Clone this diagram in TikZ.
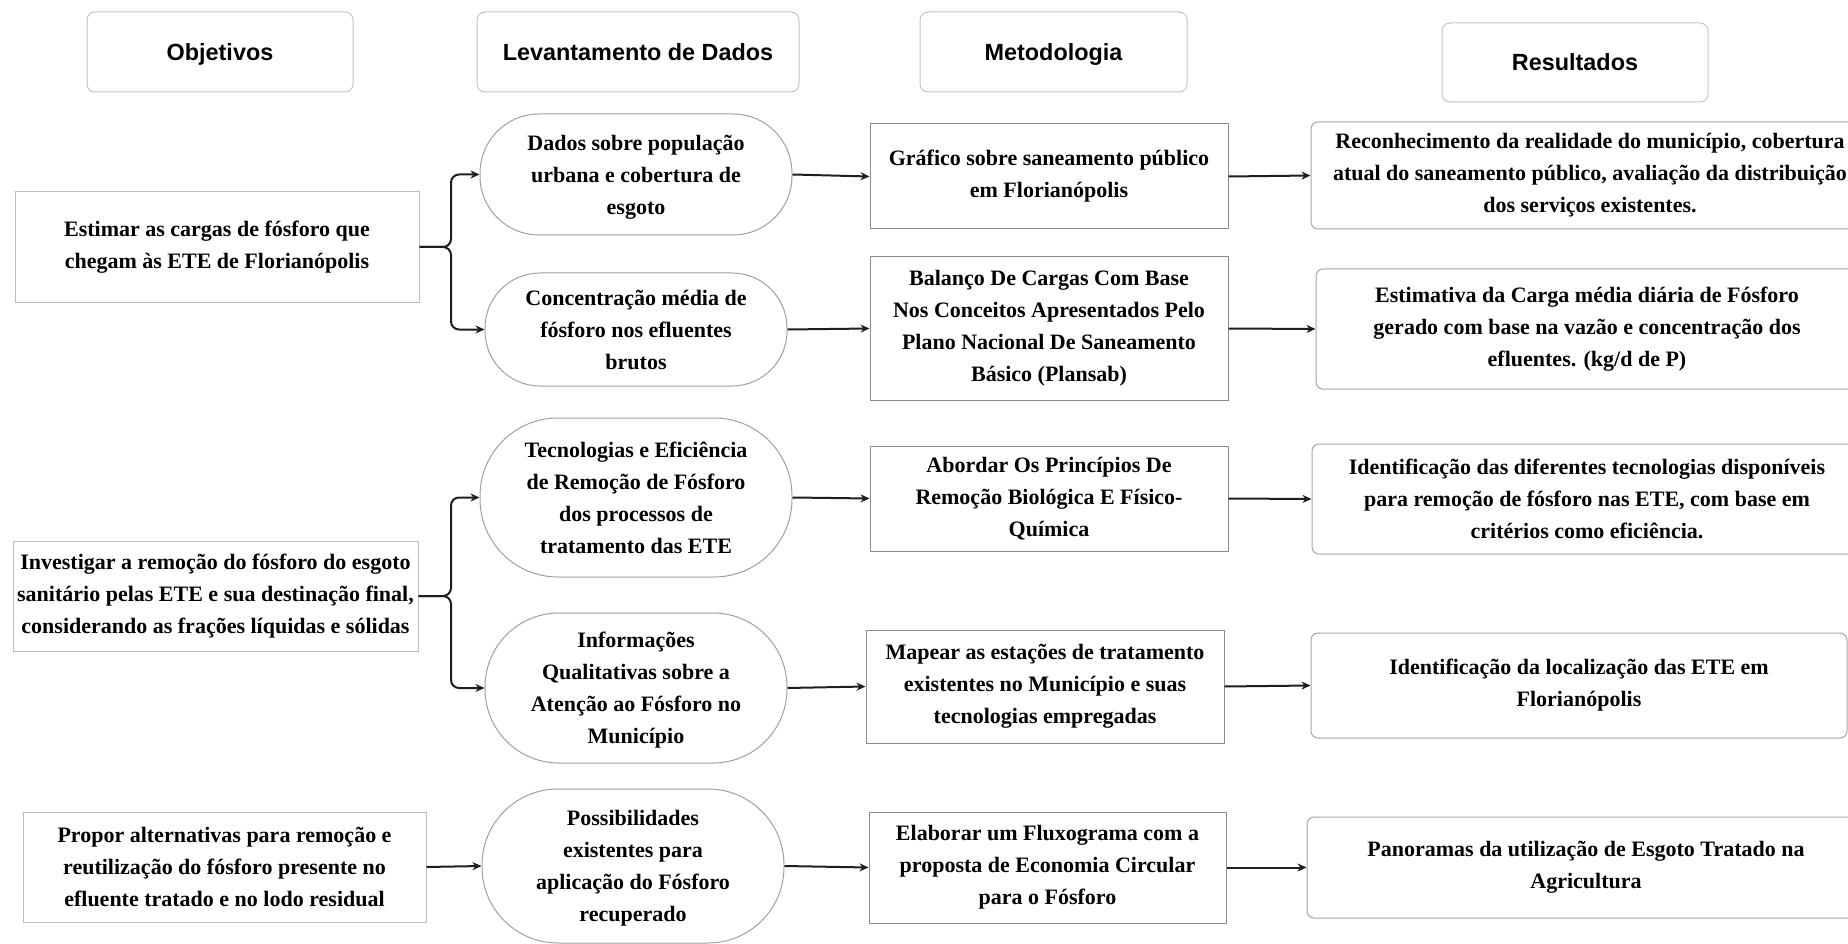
\documentclass[tikz,border=0pt]{standalone}
\usepackage{fontspec}
\setmainfont{Liberation Serif}
\newfontfamily\hfont{Liberation Sans}
\usetikzlibrary{arrows.meta}
\definecolor{hdrgray}{HTML}{C4C4C4}
\definecolor{objgray}{HTML}{BDBDBD}
\definecolor{ovalgray}{HTML}{A0A0A0}
\definecolor{metgray}{HTML}{8C8C8C}
\definecolor{resgray}{HTML}{A6A6A6}
\definecolor{arrblack}{HTML}{1E1E1E}
\newcommand\bodyfnt{\bfseries\fontsize{22}{32}\selectfont}
\tikzset{
  hdrbox/.style={draw=hdrgray, line width=1pt, rounded corners=8pt, inner sep=0pt,
    text height=16.8pt, text depth=0pt,
    font=\hfont\bfseries\fontsize{23.4}{28}\selectfont},
  objbox/.style={draw=objgray, line width=1pt, inner sep=0pt, align=center, font=\bodyfnt},
  ovalbox/.style={draw=ovalgray, line width=1pt, inner sep=0pt, align=center, font=\bodyfnt,
    text depth=-4.5pt},
  metbox/.style={draw=metgray, line width=1pt, inner sep=0pt, align=center, font=\bodyfnt},
  resbox/.style={draw=resgray, line width=1pt, rounded corners=7pt, inner sep=0pt, align=center, font=\bodyfnt},
  arr/.style={draw=arrblack, line width=2pt, -{Stealth[length=9pt,width=8pt]}},
}
\begin{document}
\begin{tikzpicture}[x=1pt,y=-1pt]
\useasboundingbox (0,0) rectangle (1848,944);
\clip (0,0) rectangle (1848,944);
\fill[white] (0,0) rectangle (1848,944);

% headers
\node[hdrbox, minimum width=266pt, minimum height=80pt] (hObj) at (220,52) {Objetivos};
\node[hdrbox, minimum width=322pt, minimum height=80pt] (hLev) at (638,52) {Levantamento de Dados};
\node[hdrbox, minimum width=267pt, minimum height=80pt] (hMet) at (1053.5,52) {Metodologia};
\node[hdrbox, minimum width=266pt, minimum height=79pt] (hRes) at (1575,62.5) {Resultados};

% objectives
\node[objbox, minimum width=404pt, minimum height=110pt] (o1) at (217,247)
  {Estimar as cargas de fósforo que\\chegam às ETE de Florianópolis};
\node[objbox, minimum width=405pt, minimum height=110pt] (o2) at (215.5,596)
  {Investigar a remoção do fósforo do esgoto\\sanitário pelas ETE e sua destinação final,\\considerando as frações líquidas e sólidas};
\node[objbox, minimum width=403pt, minimum height=110pt] (o3) at (224.5,867)
  {Propor alternativas para remoção e\\reutilização do fósforo presente no\\efluente tratado e no lodo residual};

% data (ovals)
\node[ovalbox, rounded corners=59pt, minimum width=312pt, minimum height=121pt] (e1) at (636,174.5)
  {Dados sobre população\\urbana e cobertura de\\esgoto};
\node[ovalbox, rounded corners=55pt, minimum width=302pt, minimum height=113pt] (e2) at (636,329.5)
  {Concentração média de\\fósforo nos efluentes\\brutos};
\node[ovalbox, rounded corners=78pt, minimum width=312pt, minimum height=159pt] (e3) at (636,497.5)
  {Tecnologias e Eficiência\\de Remoção de Fósforo\\dos processos de\\tratamento das ETE};
\node[ovalbox, rounded corners=74pt, minimum width=302pt, minimum height=150pt] (e4) at (636,688)
  {Informações\\Qualitativas sobre a\\Atenção ao Fósforo no\\Município};
\node[ovalbox, rounded corners=76pt, minimum width=302pt, minimum height=154pt] (e5) at (633,866)
  {Possibilidades\\existentes para\\aplicação do Fósforo\\recuperado};

% methodology
\node[metbox, minimum width=358pt, minimum height=105pt] (m1) at (1049,176.5)
  {Gráfico sobre saneamento público\\em Florianópolis};
\node[metbox, minimum width=358pt, minimum height=143pt] (m2) at (1049,328.5)
  {Balanço De Cargas Com Base\\Nos Conceitos Apresentados Pelo\\Plano Nacional De Saneamento\\Básico (Plansab)};
\node[metbox, minimum width=358pt, minimum height=105pt] (m3) at (1049,498.5)
  {Abordar Os Princípios De\\Remoção Biológica E Físico-\\Química};
\node[metbox, minimum width=358pt, minimum height=113pt] (m4) at (1045,686.5)
  {Mapear as estações de tratamento\\existentes no Município e suas\\tecnologias empregadas};
\node[metbox, minimum width=357pt, minimum height=111pt] (m5) at (1047.5,867.5)
  {Elaborar um Fluxograma com a\\proposta de Economia Circular\\para o Fósforo};

% results
\node[resbox, minimum width=558pt, minimum height=107pt] (r1) at (1590,175.5)
  {Reconhecimento da realidade do município, cobertura\\atual do saneamento público, avaliação da distribuição\\dos serviços existentes.};
\node[resbox, minimum width=542pt, minimum height=120pt] (r2) at (1587,329)
  {Estimativa da Carga média diária de Fósforo\\gerado com base na vazão e concentração dos\\efluentes. (kg/d de P)};
\node[resbox, minimum width=550pt, minimum height=110pt] (r3) at (1587,499)
  {Identificação das diferentes tecnologias disponíveis\\para remoção de fósforo nas ETE, com base em\\critérios como eficiência.};
\node[resbox, minimum width=536pt, minimum height=105pt] (r4) at (1579,685.5)
  {Identificação da localização das ETE em\\Florianópolis};
\node[resbox, minimum width=558pt, minimum height=101pt] (r5) at (1586,867.5)
  {Panoramas da utilização de Esgoto Tratado na\\Agricultura};

% brace connectors
\coordinate (b1) at (451,247);
\coordinate (b2) at (451,596);
\draw[arr, rounded corners=8pt] (o1.east) -- (b1) |- (e1.west);
\draw[arr, rounded corners=8pt] (o1.east) -- (b1) |- (e2.west);
\draw[arr, rounded corners=8pt] (o2.east) -- (b2) |- (e3.west);
\draw[arr, rounded corners=8pt] (o2.east) -- (b2) |- (e4.west);
\draw[arr] (o3.east) -- (e5.west);

% row connectors
\draw[arr] (e1.east) -- (m1.west);
\draw[arr] (e2.east) -- (m2.west);
\draw[arr] (e3.east) -- (m3.west);
\draw[arr] (e4.east) -- (m4.west);
\draw[arr] (e5.east) -- (m5.west);
\draw[arr] (m1.east) -- (r1.west);
\draw[arr] (m2.east) -- (r2.west);
\draw[arr] (m3.east) -- (r3.west);
\draw[arr] (m4.east) -- (r4.west);
\draw[arr] (m5.east) -- (r5.west);
\end{tikzpicture}
\end{document}
